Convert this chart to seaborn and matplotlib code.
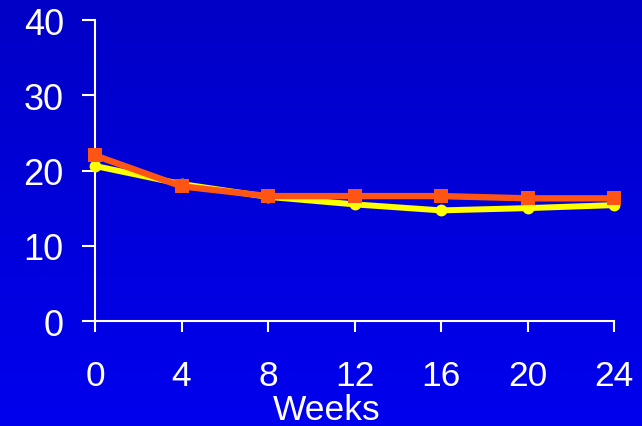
import numpy as np
import pandas as pd
import matplotlib
matplotlib.use("Agg")
import matplotlib.pyplot as plt
import seaborn as sns

weeks = [0, 4, 8, 12, 16, 20, 24]
yellow_vals = [20.6, 18.2, 16.5, 15.5, 14.7, 15.0, 15.4]
orange_vals = [22.0, 17.9, 16.6, 16.6, 16.6, 16.3, 16.3]
y_ticks = [0, 10, 20, 30, 40]

YELLOW = "#FFFF00"
ORANGE = "#FF5514"

sns.set_style("white")
plt.rcParams["font.family"] = ["Liberation Sans", "DejaVu Sans"]

fig = plt.figure(figsize=(6.42, 4.27), dpi=100)

# gradient background
bg = fig.add_axes([0, 0, 1, 1], zorder=-10)
grad = np.linspace(0, 1, 256).reshape(-1, 1)
cmap = matplotlib.colors.LinearSegmentedColormap.from_list("bg", ["#0000C6", "#0000EE"])
bg.imshow(grad, aspect="auto", cmap=cmap, extent=[0, 1, 0, 1])
bg.set_axis_off()

ax = fig.add_axes([0.148, 0.2459, 0.8084, 0.7049])
ax.patch.set_alpha(0)

data = pd.DataFrame({"week": weeks, "yellow": yellow_vals, "orange": orange_vals})
sns.lineplot(data=data, x="week", y="yellow", ax=ax, color=YELLOW, marker="o",
             markersize=8.5, markeredgewidth=0, linewidth=4.3, clip_on=False, zorder=3)
sns.lineplot(data=data, x="week", y="orange", ax=ax, color=ORANGE, marker="s",
             markersize=9.5, markeredgewidth=0, linewidth=4.6, clip_on=False, zorder=4)

ax.set_xlim(0, 24)
ax.set_ylim(0, 40)
ax.set_xticks(weeks)
ax.set_yticks(y_ticks)
for s in ["top", "right"]:
    ax.spines[s].set_visible(False)
for s in ["left", "bottom"]:
    ax.spines[s].set_color("white")
    ax.spines[s].set_linewidth(1.5)
ax.tick_params(axis="y", colors="white", labelsize=26, length=9.5, width=1.5,
               pad=13, direction="out", left=True)
ax.tick_params(axis="x", colors="white", labelsize=25.5, length=8, width=1.5,
               pad=19, direction="out", bottom=True)
ax.set_ylabel("")
ax.set_xlabel("Weeks", color="white", fontsize=25.5)
ax.xaxis.label.set_va("bottom")
ax.xaxis.set_label_coords(0.447, -0.348)

fig.savefig("out.png", dpi=100)
